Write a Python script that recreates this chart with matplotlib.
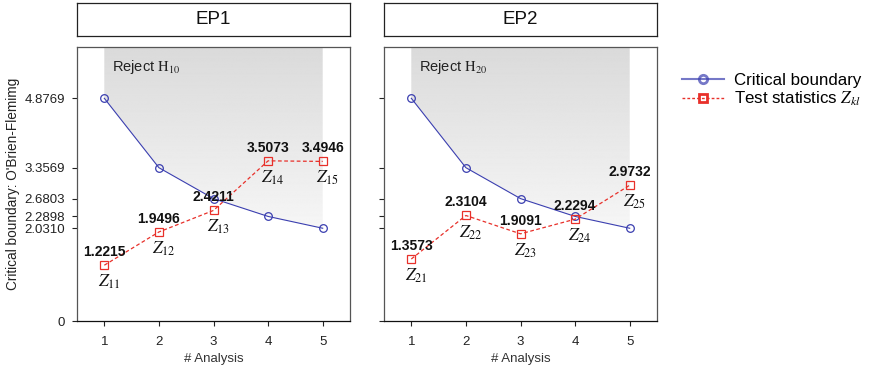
import matplotlib
matplotlib.use("Agg")
import matplotlib.pyplot as plt
import numpy as np
from matplotlib.patches import Polygon
from matplotlib.lines import Line2D

plt.rcParams['font.family'] = ['Liberation Sans', 'DejaVu Sans']
plt.rcParams['mathtext.fontset'] = 'stix'

analysis = [1, 2, 3, 4, 5]
boundary = [4.8769, 3.3569, 2.6803, 2.2898, 2.0310]
ep1_z = [1.2215, 1.9496, 2.4211, 3.5073, 3.4946]
ep2_z = [1.3573, 2.3104, 1.9091, 2.2294, 2.9732]
panels = ["EP1", "EP2"]
ytick_vals = [0, 2.0310, 2.2898, 2.6803, 3.3569, 4.8769]
ytick_labels = ["0", "2.0310", "2.2898", "2.6803", "3.3569", "4.8769"]

W, H = 871, 371
fig = plt.figure(figsize=(W / 100, H / 100), dpi=100)

blue = '#3b3fb0'
red = '#e8302a'

def px_axes(x0, y0, x1, y1):
    return [x0 / W, 1 - y1 / H, (x1 - x0) / W, (y1 - y0) / H]

axes_px = [(77, 47, 350, 321), (384, 47, 657, 321)]
zsets = [ep1_z, ep2_z]

for k, (name, z) in enumerate(zip(panels, zsets)):
    x0, y0, x1, y1 = axes_px[k]
    ax = fig.add_axes(px_axes(x0, y0, x1, y1))
    ax.set_xlim(0.5, 5.5)
    ax.set_ylim(0, 6)

    # gradient shaded reject region
    grad = np.linspace(0.965, 0.855, 256).reshape(-1, 1)
    im = ax.imshow(grad, extent=[1, 5, 2.0, 6], origin='lower', cmap='gray',
                   vmin=0, vmax=1, aspect='auto', zorder=0)
    verts = list(zip(analysis, boundary)) + [(5, 6), (1, 6)]
    poly = Polygon(verts, closed=True, transform=ax.transData,
                   facecolor='none', edgecolor='none')
    ax.add_patch(poly)
    im.set_clip_path(poly)

    ax.plot(analysis, boundary, '-', color=blue, lw=0.8, marker='o', ms=5.5,
            mfc='none', mec=blue, mew=0.9, zorder=3)
    ax.plot(analysis, z, '--', color=red, lw=0.9, marker='s', ms=5.5,
            mfc='none', mec=red, mew=0.9, zorder=3, dashes=(3, 2))

    for i, (xx, v) in enumerate(zip(analysis, z)):
        ax.annotate(f"{v:.4f}", (xx, v), xytext=(0, 4.5), textcoords='offset points',
                    ha='center', va='bottom', fontsize=10, fontweight='bold',
                    color='#111111', zorder=4)
        ax.annotate(f"$Z_{{{k+1}{i+1}}}$", (xx, v), xytext=(3.5, -5.5),
                    textcoords='offset points', ha='center', va='top',
                    fontsize=12.5, color='#111111', zorder=4)

    ax.text(1.15, 5.75, f"Reject $\\mathrm{{H}}_{{{k+1}0}}$", ha='left', va='top',
            fontsize=10.5, color='#222222')

    ax.set_xticks(analysis)
    ax.set_xticklabels([str(a) for a in analysis])
    ax.set_yticks(ytick_vals)
    if k == 0:
        ax.set_yticklabels(ytick_labels)
        ax.set_ylabel("Critical boundary: O'Brien-Flemimg", fontsize=9.8,
                      color='#222222', labelpad=3)
    else:
        ax.set_yticklabels([])
    ax.set_xlabel("# Analysis", fontsize=9.5, color='#333333', labelpad=4)
    ax.tick_params(axis='both', labelsize=9.5, colors='#222222', length=3.5,
                   width=0.8, pad=5)
    ax.tick_params(axis='x', pad=7)
    for s in ['top', 'right', 'left']:
        ax.spines[s].set_color('#555555')
        ax.spines[s].set_linewidth(0.9)
    ax.spines['bottom'].set_color('#111111')
    ax.spines['bottom'].set_linewidth(0.9)

    # strip header
    sax = fig.add_axes(px_axes(x0, 3, x1, 36))
    sax.set_xticks([])
    sax.set_yticks([])
    for s in sax.spines.values():
        s.set_color('#222222')
        s.set_linewidth(0.9)
    sax.text(0.5, 0.5, name, ha='center', va='center', fontsize=13.5,
             color='#111111', transform=sax.transAxes)

handles = [
    Line2D([], [], color=blue, lw=1.5, alpha=0.7, marker='o', ms=6, mfc='none',
           mec=blue, mew=2),
    Line2D([], [], color=red, lw=1.0, ls='--', dashes=(2, 1.5), marker='s',
           ms=6, mfc='none', mec=red, mew=2),
]
fig.legend(handles, ["Critical boundary", "Test statistics $Z_{kl}$"],
           loc='upper left', bbox_to_anchor=(675 / W, 1 - 66 / H), frameon=False,
           fontsize=12.2, handlelength=2.5, handletextpad=0.6, labelspacing=0.12,
           borderaxespad=0)

fig.savefig("out.png", dpi=100)
